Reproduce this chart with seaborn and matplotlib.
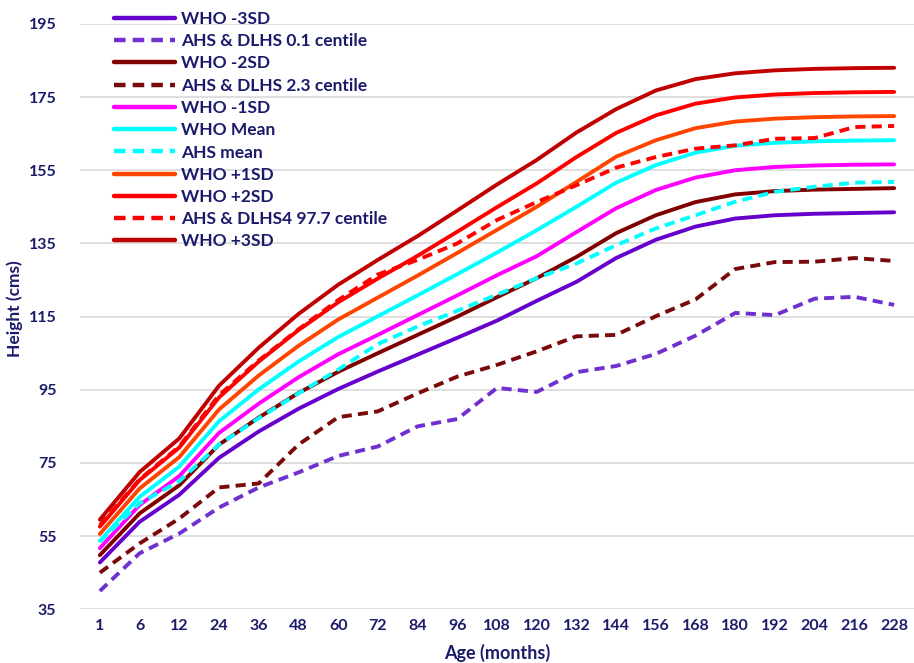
# WHO vs AHS/DLHS height-for-age chart

import numpy as np
import pandas as pd
import matplotlib
matplotlib.use('Agg')
import matplotlib.pyplot as plt
import seaborn as sns

# -----------------------------
# 1. Data
# -----------------------------
ages = ['1', '6', '12', '24', '36', '48', '60', '72', '84', '96', '108', '120',
        '132', '144', '156', '168', '180', '192', '204', '216', '228']

who_m3 = [47.8, 58.9, 66.3, 76.4, 83.6, 89.8, 95.2, 100.0, 104.6, 109.2, 113.9, 119.3,
          124.5, 131.0, 136.0, 139.6, 141.8, 142.7, 143.1, 143.3, 143.5]
ahs_01 = [40.0, 50.3, 55.7, 62.8, 68.3, 72.4, 76.9, 79.5, 85.0, 87.0, 95.5, 94.4,
          99.8, 101.5, 104.8, 109.8, 116.0, 115.4, 119.9, 120.4, 118.2]
who_m2 = [49.8, 61.2, 68.9, 80.0, 87.4, 94.1, 99.9, 105.0, 110.0, 115.0, 120.3, 125.5,
          131.3, 137.8, 142.7, 146.3, 148.4, 149.3, 149.7, 149.9, 150.1]
ahs_23 = [45.0, 53.0, 59.8, 68.3, 69.4, 80.0, 87.5, 89.1, 94.0, 98.6, 101.8, 105.5,
          109.6, 110.0, 115.1, 119.7, 128.0, 129.9, 130.0, 131.0, 130.2]
who_m1 = [51.7, 63.5, 71.4, 83.2, 91.2, 98.4, 104.7, 110.0, 115.4, 120.8, 126.3, 131.5,
          138.1, 144.6, 149.6, 153.0, 155.0, 155.9, 156.3, 156.5, 156.6]
who_mean = [53.7, 65.7, 74.0, 86.4, 95.1, 102.7, 109.4, 115.1, 120.8, 126.6, 132.5, 138.6,
            145.0, 151.6, 156.4, 159.8, 161.7, 162.5, 162.9, 163.1, 163.2]
ahs_mean = [53.5, 64.0, 70.0, 80.0, 87.2, 94.0, 100.5, 107.5, 112.3, 116.6, 121.0, 125.5,
            129.5, 134.5, 139.1, 142.7, 146.4, 149.1, 150.5, 151.6, 151.8]
who_p1 = [55.6, 68.0, 76.6, 89.6, 98.9, 107.0, 114.2, 120.2, 126.2, 132.4, 138.7, 145.0,
          151.8, 158.7, 163.2, 166.5, 168.3, 169.1, 169.5, 169.7, 169.8]
who_p2 = [57.6, 70.3, 79.2, 92.9, 102.7, 111.3, 118.9, 125.4, 131.6, 138.2, 144.9, 151.4,
          158.6, 165.2, 170.0, 173.2, 174.9, 175.7, 176.1, 176.3, 176.4]
ahs_977 = [58.0, 70.5, 79.5, 93.5, 103.0, 111.5, 119.5, 126.5, 130.5, 135.0, 141.4, 146.3,
           150.9, 155.7, 158.6, 160.9, 161.8, 163.6, 163.8, 166.8, 167.1]
who_p3 = [59.5, 72.5, 81.7, 96.1, 106.5, 115.7, 123.7, 130.5, 137.0, 144.0, 151.1, 157.8,
          165.3, 171.7, 176.8, 179.9, 181.5, 182.3, 182.7, 182.9, 183.0]

series_names = ['WHO -3SD', 'AHS & DLHS 0.1 centile', 'WHO -2SD', 'AHS & DLHS 2.3 centile',
                'WHO -1SD', 'WHO Mean', 'AHS mean', 'WHO +1SD', 'WHO +2SD',
                'AHS & DLHS4 97.7 centile', 'WHO +3SD']
series_values = [who_m3, ahs_01, who_m2, ahs_23, who_m1, who_mean, ahs_mean,
                 who_p1, who_p2, ahs_977, who_p3]

colors = ['#6600CC', '#7030D0', '#800000', '#7A0A0A', '#FF00FF', '#00FFFF', '#00FFFF',
          '#FF4500', '#FF0000', '#FF0000', '#C00000']
dashed = [False, True, False, True, False, False, True, False, False, True, False]

rows = []
for name, vals in zip(series_names, series_values):
    for i, v in enumerate(vals):
        rows.append({'pos': i, 'Age': ages[i], 'Height': v, 'Series': name})
df = pd.DataFrame(rows)

palette = dict(zip(series_names, colors))
dash_map = {n: ((2.6, 1.6) if d else '') for n, d in zip(series_names, dashed)}

# -----------------------------
# 2. Plot
# -----------------------------
sns.set_style('white')
plt.rcParams['font.family'] = ['Lato', 'DejaVu Sans']
text_col = '#1B1B6B'

fig = plt.figure(figsize=(9.14, 6.63), dpi=100)
ax = fig.add_axes([80 / 914, 0.081, 834 / 914, 0.883])

sns.lineplot(data=df, x='pos', y='Height', hue='Series', style='Series',
             hue_order=series_names, style_order=series_names,
             palette=palette, dashes=dash_map, linewidth=2.8, sort=False,
             ax=ax, legend=True)

ax.set_xlim(-0.5, len(ages) - 0.5)
ax.set_ylim(35, 195)
ax.set_yticks(np.arange(35, 196, 20))
ax.set_xticks(range(len(ages)))
ax.set_xticklabels(ages)
ax.grid(axis='y', color='#D9D9D9', linewidth=1.2)
ax.grid(axis='x', visible=False)
for s in ax.spines.values():
    s.set_visible(False)
ax.tick_params(axis='both', length=0, labelsize=11.5, labelcolor=text_col)
ax.tick_params(axis='y', pad=17)
ax.tick_params(axis='x', pad=7)
for lbl in ax.get_xticklabels() + ax.get_yticklabels():
    lbl.set_fontweight('bold')

ax.set_xlabel('Age (months)', fontsize=13, fontweight='bold', color=text_col, labelpad=8)
ax.set_ylabel('Height (cms)', fontsize=12.5, fontweight='bold', color=text_col)
ax.yaxis.set_label_coords(-57 / 834, 0.513)

handles, labels = ax.get_legend_handles_labels()
for h in handles:
    h.set_linewidth(3.2)
leg = ax.legend(handles, labels, loc='upper left', bbox_to_anchor=(114 / 914, 1 - 11 / 663),
                bbox_transform=fig.transFigure, frameon=False, fontsize=12.5,
                handlelength=3.5, handletextpad=0.35, labelspacing=0.36,
                borderpad=0, borderaxespad=0)
for t in leg.get_texts():
    t.set_color(text_col)
    t.set_fontweight('bold')

fig.savefig('out.png', dpi=100)
